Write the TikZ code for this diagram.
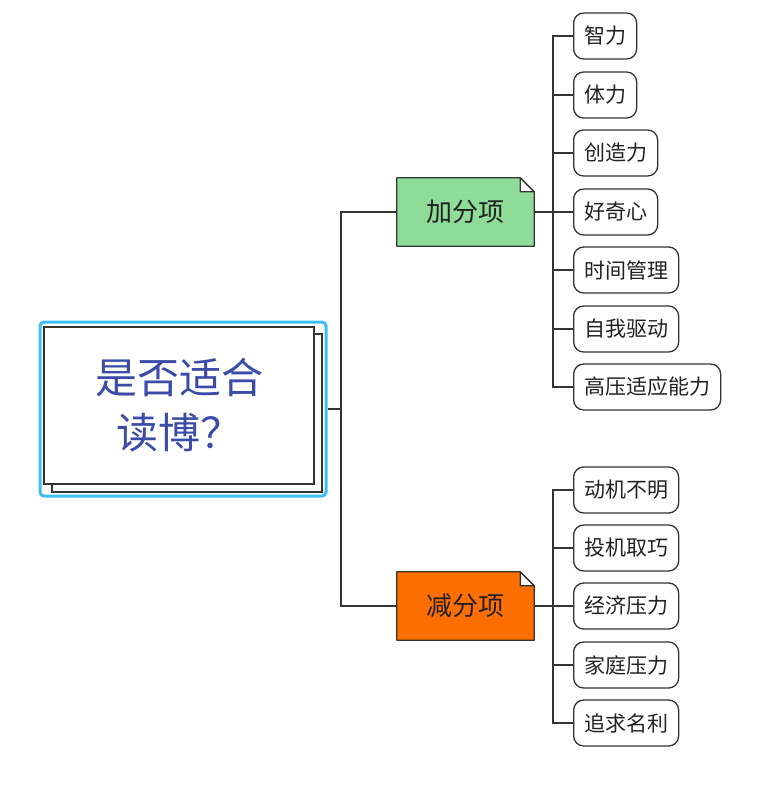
\documentclass[tikz,border=0pt]{standalone}
\usepackage{fontspec}
\setmainfont{Noto Sans CJK SC}
\usetikzlibrary{backgrounds}
\definecolor{linec}{HTML}{333333}
\definecolor{textc}{HTML}{222222}
\definecolor{greenc}{HTML}{8EDC98}
\definecolor{orangec}{HTML}{FF6F00}
\definecolor{framec}{HTML}{3DBDF5}
\definecolor{rootblue}{HTML}{3B4BA8}
\tikzset{
  conn/.style={draw=linec, line width=1.3},
  leaf/.style={draw=linec, line width=1.3, rounded corners=10, minimum height=46, inner xsep=10.5, anchor=west, font=\fontsize{21}{25}\selectfont, text=textc, fill=white},
  branch/.style={minimum width=137, minimum height=68, inner sep=0, font=\fontsize{26}{30}\selectfont, text=textc},
  notefold/.style={draw=linec, line width=1.3, fill=white, line join=round}
}
\begin{document}
\begin{tikzpicture}[x=1pt,y=-1pt]
\useasboundingbox (0,0) rectangle (770,793);
% root
\node[draw=framec, line width=3, rounded corners=4, minimum width=286, minimum height=174, inner sep=0] (rootframe) at (183,409) {};
\draw[draw=linec, line width=1.3, fill=white] (52,334) rectangle (322,492);
\node[draw=linec, line width=1.3, fill=white, minimum width=270, minimum height=157, inner sep=0, align=center, text=rootblue, font=\fontsize{42}{55}\selectfont] (root) at (179,405.5) {是否适合\\读博？};
% branches
\node[branch] (plus) at (465.5,212) {加分项};
\node[branch] (minus) at (465.5,606) {减分项};
\begin{scope}[on background layer]
\path[draw=linec, line width=1.3, fill=greenc, line join=round] (plus.south west) -- (plus.north west) -- ([xshift=-14]plus.north east) -- ([yshift=-14]plus.north east) -- (plus.south east) -- cycle;
\path[notefold] ([xshift=-14]plus.north east) -- ([xshift=-14,yshift=-14]plus.north east) -- ([yshift=-14]plus.north east) -- cycle;
\path[draw=linec, line width=1.3, fill=orangec, line join=round] (minus.south west) -- (minus.north west) -- ([xshift=-14]minus.north east) -- ([yshift=-14]minus.north east) -- (minus.south east) -- cycle;
\path[notefold] ([xshift=-14]minus.north east) -- ([xshift=-14,yshift=-14]minus.north east) -- ([yshift=-14]minus.north east) -- cycle;
\end{scope}
% leaves
\node[leaf] (a1) at (573,36) {智力};
\node[leaf] (a2) at (573,95) {体力};
\node[leaf] (a3) at (573,153) {创造力};
\node[leaf] (a4) at (573,212) {好奇心};
\node[leaf] (a5) at (573,270) {时间管理};
\node[leaf] (a6) at (573,329) {自我驱动};
\node[leaf] (a7) at (573,387) {高压适应能力};
\node[leaf] (b1) at (573,490) {动机不明};
\node[leaf] (b2) at (573,548) {投机取巧};
\node[leaf] (b3) at (573,606) {经济压力};
\node[leaf] (b4) at (573,665) {家庭压力};
\node[leaf] (b5) at (573,723) {追求名利};
% connectors
\coordinate (j1) at (341,409);
\coordinate (j2) at (553,212);
\coordinate (j3) at (553,606);
\draw[conn] (rootframe.east) -- (j1);
\draw[conn] (j1) |- (plus.west);
\draw[conn] (j1) |- (minus.west);
\draw[conn] (plus.east) -- (j2);
\foreach \n in {a1,a2,a3,a4,a5,a6,a7} {\draw[conn] (j2) |- (\n.west);}
\draw[conn] (minus.east) -- (j3);
\foreach \n in {b1,b2,b3,b4,b5} {\draw[conn] (j3) |- (\n.west);}
\end{tikzpicture}
\end{document}
